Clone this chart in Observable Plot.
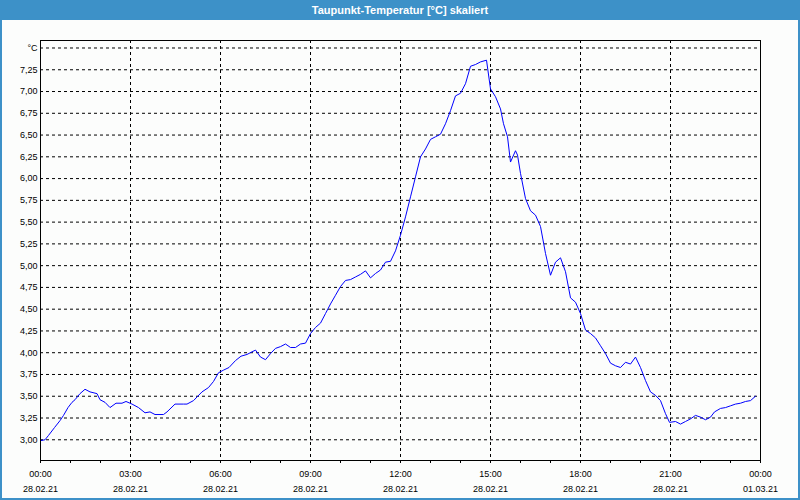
<!DOCTYPE html>
<html>
<head>
<meta charset="utf-8">
<script src="https://cdn.jsdelivr.net/npm/d3@7"></script>
<script src="https://cdn.jsdelivr.net/npm/@observablehq/plot@0.6"></script>
<style>
  html, body { margin: 0; padding: 0; background: #fcfdfc; }
  #wrap { position: relative; width: 800px; height: 500px; overflow: hidden; background: #fcfdfc; }
  #title { height: 20px; line-height: 20px; background: #3d91c8; color: #ffffff; text-align: center;
           font-family: "Liberation Sans", Arial, sans-serif; font-size: 11px; font-weight: bold; }
  #border { position: absolute; left: 0; top: 0; width: 800px; height: 500px; box-sizing: border-box;
            border: 2px solid #3d91c8; border-top: none; pointer-events: none; }
  #chart svg { display: block; }
</style>
</head>
<body>
<div id="wrap">
  <div id="title">Taupunkt-Temperatur [°C] skaliert</div>
  <div id="chart"></div>
  <div id="border"></div>
</div>
<script>
// minutes since 00:00 on 28.02.21
const minutes = [0, 9, 16, 28, 39, 46, 55, 63, 69, 79, 89, 99, 113, 119, 129, 139, 151, 163, 171, 183,
  196, 209, 219, 229, 246, 253, 269, 286, 293, 306, 323, 336, 346, 356, 366, 377, 390, 401, 413, 423,
  430, 440, 450, 460, 470, 480, 490, 500, 510, 520, 530, 540, 550, 560, 570, 580, 590, 600, 610, 620,
  630, 640, 650, 660, 670, 680, 690, 700, 710, 720, 730, 740, 750, 760, 770, 780, 790, 800, 810, 820,
  830, 840, 850, 860, 870, 880, 892, 900, 910, 920, 926, 934, 940, 950, 954, 960, 970, 980, 990, 1000,
  1010, 1020, 1030, 1040, 1050, 1060, 1070, 1080, 1090, 1100, 1110, 1120, 1130, 1140, 1150, 1160, 1170, 1180,
  1190, 1200, 1210, 1220, 1230, 1240, 1250, 1258, 1270, 1280, 1290, 1300, 1310, 1320, 1330, 1340, 1348, 1360,
  1370, 1380, 1390, 1400, 1410, 1420, 1430];
// dew point temperature, °C
const dewpoint = [2.99, 3.00, 3.05, 3.14, 3.22, 3.28, 3.37, 3.43, 3.46, 3.53, 3.58, 3.55, 3.53, 3.46, 3.43, 3.37, 3.42, 3.42, 3.44, 3.41,
  3.37, 3.31, 3.32, 3.29, 3.29, 3.32, 3.41, 3.41, 3.41, 3.45, 3.55, 3.60, 3.67, 3.77, 3.80, 3.83, 3.91, 3.96, 3.98, 4.01,
  4.03, 3.95, 3.92, 3.99, 4.05, 4.07, 4.10, 4.06, 4.06, 4.10, 4.11, 4.22, 4.29, 4.34, 4.45, 4.56, 4.66, 4.76, 4.83, 4.84,
  4.87, 4.90, 4.94, 4.86, 4.91, 4.95, 5.04, 5.05, 5.17, 5.35, 5.56, 5.79, 6.02, 6.25, 6.34, 6.45, 6.48, 6.51, 6.63, 6.78,
  6.95, 6.98, 7.09, 7.29, 7.31, 7.34, 7.36, 7.03, 6.94, 6.80, 6.63, 6.48, 6.19, 6.32, 6.27, 6.06, 5.77, 5.63, 5.58, 5.45,
  5.14, 4.89, 5.04, 5.09, 4.93, 4.63, 4.58, 4.45, 4.26, 4.22, 4.17, 4.08, 3.99, 3.88, 3.85, 3.83, 3.89, 3.87,
  3.95, 3.83, 3.68, 3.55, 3.51, 3.45, 3.30, 3.20, 3.21, 3.18, 3.21, 3.24, 3.28, 3.26, 3.23, 3.26, 3.32, 3.36,
  3.37, 3.39, 3.41, 3.42, 3.44, 3.45, 3.50];

const yTicks = [3.00, 3.25, 3.50, 3.75, 4.00, 4.25, 4.50, 4.75, 5.00, 5.25, 5.50, 5.75, 6.00, 6.25, 6.50, 6.75, 7.00, 7.25, 7.50];
const yTopLabel = "°C";
const xHourTicks = [0, 60, 120, 180, 240, 300, 360, 420, 480, 540, 600, 660, 720, 780, 840, 900, 960, 1020, 1080, 1140, 1200, 1260, 1320, 1380, 1440];
const xLabelTicks = [0, 180, 360, 540, 720, 900, 1080, 1260, 1440];
const xTimeLabels = ["00:00", "03:00", "06:00", "09:00", "12:00", "15:00", "18:00", "21:00", "00:00"];
const xDateLabels = ["28.02.21", "28.02.21", "28.02.21", "28.02.21", "28.02.21", "28.02.21", "28.02.21", "28.02.21", "01.03.21"];
const xGrid = [180, 360, 540, 720, 900, 1080, 1260];

const data = minutes.map((m, i) => ({m, v: dewpoint[i]}));

const chart = Plot.plot({
  width: 800,
  height: 480,
  marginTop: 20,
  marginBottom: 40,
  marginLeft: 40,
  marginRight: 40,
  style: {fontFamily: "'Liberation Sans', Arial, sans-serif", fontSize: "9px", background: "transparent", color: "#000"},
  x: {domain: [0, 1440], axis: null},
  y: {domain: [2.762, 7.586], axis: null},
  marks: [
    Plot.ruleY(yTicks, {stroke: "#000", strokeDasharray: "3,3", strokeWidth: 1}),
    Plot.ruleX(xGrid, {stroke: "#000", strokeDasharray: "3,3", strokeWidth: 1}),
    Plot.line(data, {x: "m", y: "v", stroke: "#0000ff", strokeWidth: 1}),
    Plot.frame({stroke: "#000", strokeWidth: 1}),
    Plot.axisY(yTicks, {anchor: "left", label: null, tickSize: 0, tickPadding: 3, fontSize: 9,
      tickFormat: d => d === 7.5 ? yTopLabel : d.toFixed(2).replace(".", ",")}),
    Plot.axisX(xHourTicks, {anchor: "bottom", label: null, tickSize: 3, tickFormat: () => "", stroke: "#000"}),
    Plot.axisX(xLabelTicks, {anchor: "bottom", label: null, tickSize: 0, tickPadding: 6, fontSize: 9, lineHeight: 1.67,
      tickFormat: (d, i) => xTimeLabels[i] + "\n" + xDateLabels[i]})
  ]
});
document.getElementById("chart").appendChild(chart);
</script>
</body>
</html>
